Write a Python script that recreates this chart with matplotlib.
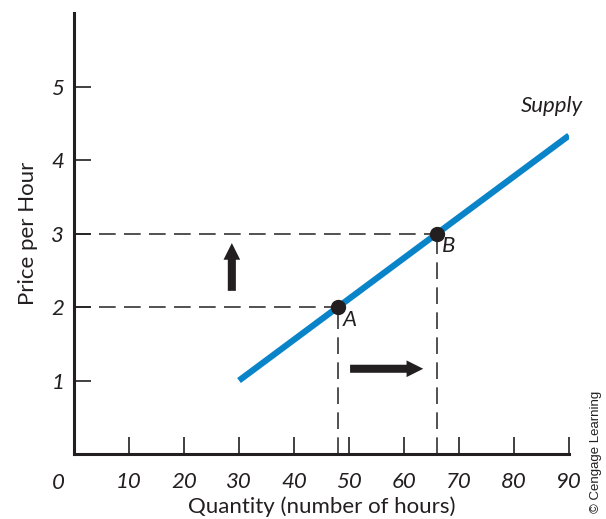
import matplotlib
matplotlib.use("Agg")
import matplotlib.pyplot as plt
from matplotlib.patches import FancyArrowPatch

# Data
supply_x = [30, 90]
supply_y = [1.0, 4.333]
point_labels = ["A", "B"]
point_x = [48, 66]
point_y = [2, 3]
x_ticks = [10, 20, 30, 40, 50, 60, 70, 80, 90]
y_ticks = [1, 2, 3, 4, 5]
up_arrow = [(28.7, 2.22), (28.7, 2.87)]
right_arrow = [(50.2, 1.16), (63.5, 1.16)]

FONT = ["Lato", "DejaVu Sans"]
DARK = "#231f20"
BLUE = "#0a84c8"

fig = plt.figure(figsize=(6.06, 5.19), dpi=100)
ax = fig.add_axes([0.1221, 0.1252, 0.8168, 0.8497])
ax.set_xlim(0, 90)
ax.set_ylim(0, 6)

for s in ["top", "right"]:
    ax.spines[s].set_visible(False)
for s in ["left", "bottom"]:
    ax.spines[s].set_linewidth(2.2)
    ax.spines[s].set_color(DARK)

ax.set_xticks(x_ticks)
ax.set_xticklabels([str(t) for t in x_ticks], fontstyle="italic", family=FONT, fontsize=16, color=DARK)
ax.set_yticks(y_ticks)
ax.set_yticklabels([str(t) for t in y_ticks], fontstyle="italic", family=FONT, fontsize=16, color=DARK)
ax.tick_params(axis="x", direction="in", length=12, width=1.2, color=DARK, pad=13)
ax.tick_params(axis="y", direction="in", length=12, width=1.2, color=DARK, pad=7)
ax.text(-2.9, -0.39, "0", ha="center", va="center", fontstyle="italic", family=FONT, fontsize=16, color=DARK)

ax.set_xlabel("Quantity (number of hours)", family=FONT, fontsize=16, color=DARK, labelpad=3)
ax.set_ylabel("Price per Hour", family=FONT, fontsize=16, color=DARK, labelpad=10)

# dashed guides
for px, py in zip(point_x, point_y):
    ax.plot([0, px], [py, py], color="#333333", lw=1.2, dashes=(10, 5), zorder=1)
    ax.plot([px, px], [0, py], color="#333333", lw=1.2, dashes=(10, 5), zorder=1)

ax.plot(supply_x, supply_y, color=BLUE, lw=4.5, solid_capstyle="butt", zorder=2)
ax.plot(point_x, point_y, "o", color=DARK, ms=10, zorder=3)

ax.text(point_x[0] + 0.9, point_y[0] - 0.04, point_labels[0], ha="left", va="top",
        fontstyle="italic", family=FONT, fontsize=16, color=DARK)
ax.text(point_x[1] + 0.9, point_y[1] - 0.04, point_labels[1], ha="left", va="top",
        fontstyle="italic", family=FONT, fontsize=16, color=DARK)
ax.text(86.9, 4.73, "Supply", ha="center", va="center", fontstyle="italic",
        family=FONT, fontsize=16, color=DARK)

for (x0, y0), (x1, y1) in [up_arrow, right_arrow]:
    arr = FancyArrowPatch((x0, y0), (x1, y1),
                          arrowstyle="simple,head_length=12,head_width=12,tail_width=5.8",
                          mutation_scale=1, color=DARK, lw=0, shrinkA=0, shrinkB=0, zorder=3)
    ax.add_patch(arr)

fig.text(596 / 606, 1 - 452 / 519, "© Cengage Learning", rotation=90, ha="center", va="center",
         family=["Liberation Sans", "DejaVu Sans"], fontsize=9.5, color=DARK)

fig.savefig("out.png", dpi=100)
